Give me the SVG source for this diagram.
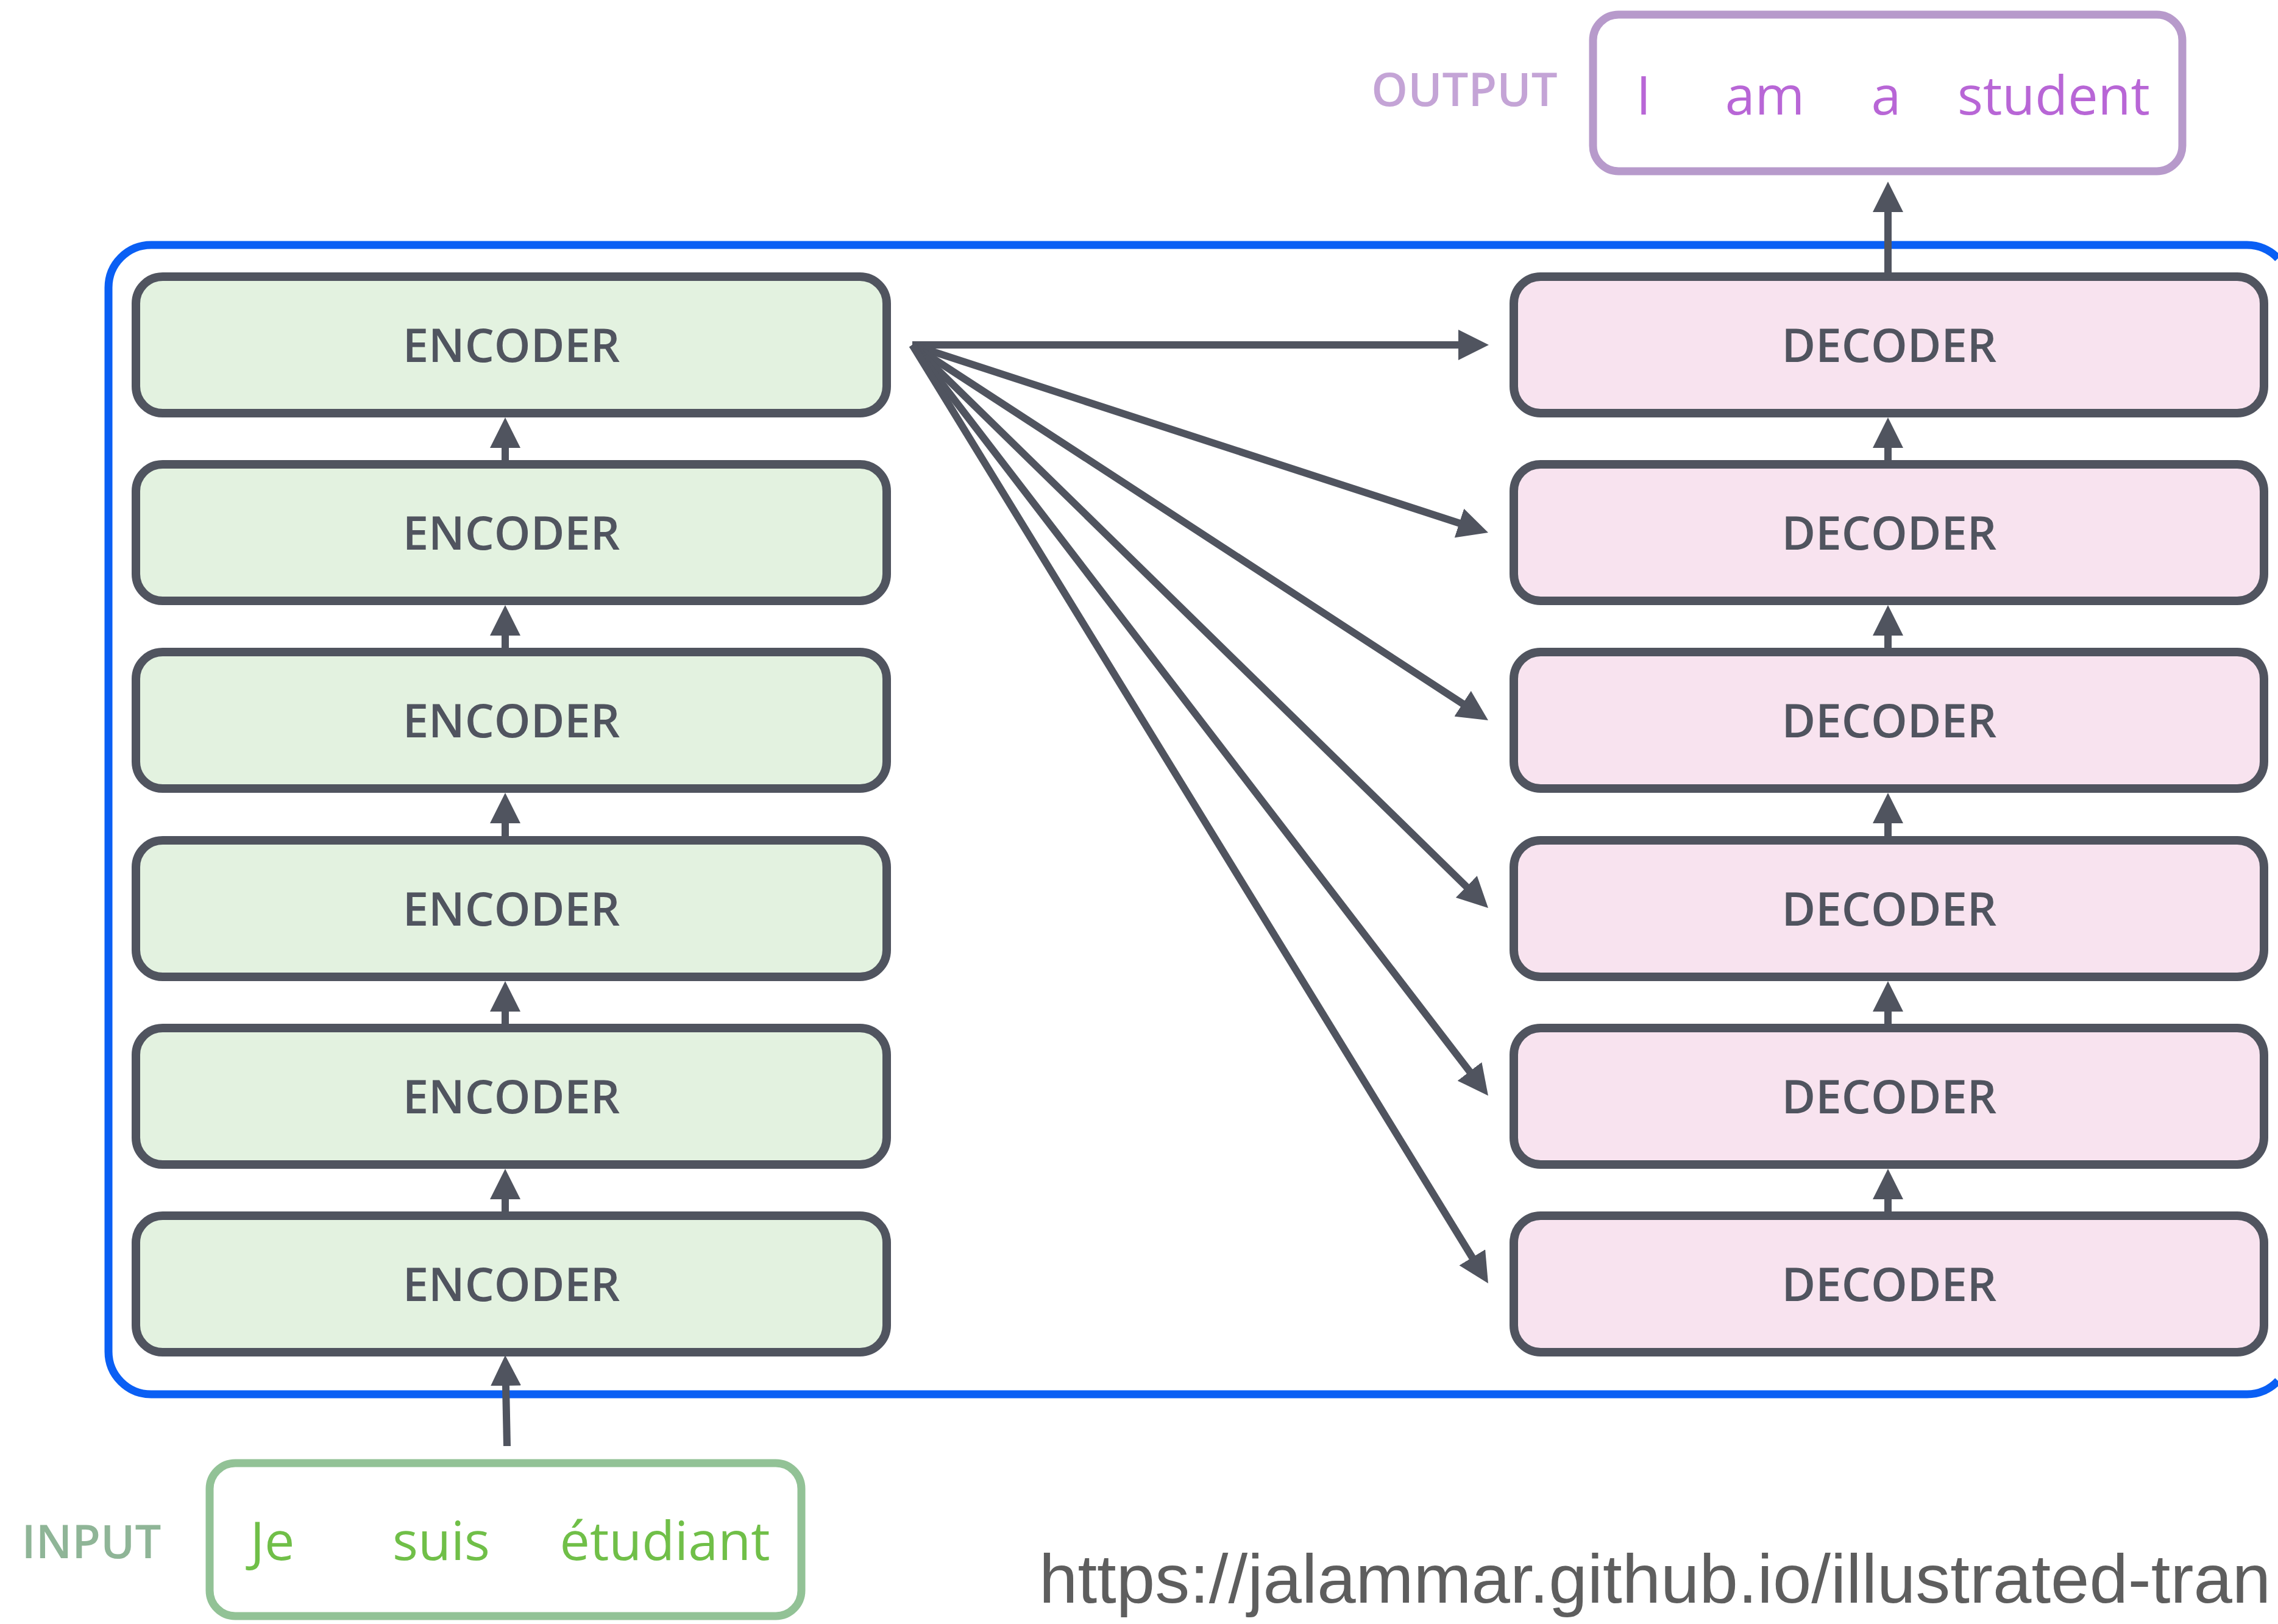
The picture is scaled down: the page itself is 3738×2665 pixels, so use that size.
<svg xmlns="http://www.w3.org/2000/svg" width="3738" height="2665" viewBox="0 0 3738 2665">
<style>
.enc rect{fill:#e3f2e0;stroke:#50545f;stroke-width:14}
.dec rect{fill:#f8e3ef;stroke:#50545f;stroke-width:14}
.lbl{font-family:"Open Sans","Noto Sans",sans-serif;font-weight:600;font-size:76px;fill:#50545f;text-anchor:middle}
.side{font-family:"Open Sans","Noto Sans",sans-serif;font-weight:600;font-size:76px;text-anchor:middle}
.word{font-family:"Open Sans","Noto Sans",sans-serif;font-size:88px;text-anchor:middle}
.conn line{stroke:#50545f;stroke-width:12;fill:none}
</style>
<defs>
<marker id="ah" markerUnits="userSpaceOnUse" markerWidth="50" markerHeight="50" refX="30" refY="25" orient="auto" viewBox="0 0 50 50">
<path d="M0,0 L50,25 L0,50 z" fill="#50545f"/>
</marker>
</defs>
<rect width="3738" height="2665" fill="#ffffff"/>
<g id="stack-frame">
<path d="M3738,424 A70,70 0 0 0 3687,402 L248,402 A70,70 0 0 0 178,472 L178,2218 A70,70 0 0 0 248,2288 L3687,2288 A70,70 0 0 0 3738,2266" fill="none" stroke="#0a5ff4" stroke-width="13"/>
</g>
<g id="encoder1" class="enc"><rect x="223" y="454" width="1232" height="224" rx="44"/><text class="lbl" x="839" y="594">ENCODER</text></g>
<g id="encoder2" class="enc"><rect x="223" y="762" width="1232" height="224" rx="44"/><text class="lbl" x="839" y="902">ENCODER</text></g>
<g id="encoder3" class="enc"><rect x="223" y="1070" width="1232" height="224" rx="44"/><text class="lbl" x="839" y="1210">ENCODER</text></g>
<g id="encoder4" class="enc"><rect x="223" y="1379" width="1232" height="224" rx="44"/><text class="lbl" x="839" y="1519">ENCODER</text></g>
<g id="encoder5" class="enc"><rect x="223" y="1687" width="1232" height="224" rx="44"/><text class="lbl" x="839" y="1827">ENCODER</text></g>
<g id="encoder6" class="enc"><rect x="223" y="1995" width="1232" height="224" rx="44"/><text class="lbl" x="839" y="2135">ENCODER</text></g>
<g id="decoder1" class="dec"><rect x="2484" y="454" width="1231" height="224" rx="44"/><text class="lbl" x="3100" y="594">DECODER</text></g>
<g id="decoder2" class="dec"><rect x="2484" y="762" width="1231" height="224" rx="44"/><text class="lbl" x="3100" y="902">DECODER</text></g>
<g id="decoder3" class="dec"><rect x="2484" y="1070" width="1231" height="224" rx="44"/><text class="lbl" x="3100" y="1210">DECODER</text></g>
<g id="decoder4" class="dec"><rect x="2484" y="1379" width="1231" height="224" rx="44"/><text class="lbl" x="3100" y="1519">DECODER</text></g>
<g id="decoder5" class="dec"><rect x="2484" y="1687" width="1231" height="224" rx="44"/><text class="lbl" x="3100" y="1827">DECODER</text></g>
<g id="decoder6" class="dec"><rect x="2484" y="1995" width="1231" height="224" rx="44"/><text class="lbl" x="3100" y="2135">DECODER</text></g>
<g id="output">
<text class="side" x="2403" y="174" fill="#c4a4d6">OUTPUT</text>
<rect x="2614" y="24" width="967" height="257" rx="42" fill="#ffffff" stroke="#b79acb" stroke-width="13"/>
<g class="word" fill="#b866d6">
<text x="2697" y="188">I</text><text x="2896" y="188">am</text><text x="3095" y="188">a</text><text x="3370" y="188">student</text>
</g>
</g>
<g id="input">
<text class="side" x="150" y="2557" fill="#8fb597">INPUT</text>
<rect x="344" y="2401" width="971" height="251" rx="42" fill="#ffffff" stroke="#92c296" stroke-width="13"/>
<g class="word" fill="#70bf48">
<text x="447" y="2560">Je</text><text x="724" y="2560">suis</text><text x="1091" y="2560">étudiant</text>
</g>
</g>
<g id="connectors" class="conn">
<line x1="829" y1="755" x2="829" y2="705" marker-end="url(#ah)"/>
<line x1="829" y1="1063" x2="829" y2="1013" marker-end="url(#ah)"/>
<line x1="829" y1="1372" x2="829" y2="1321" marker-end="url(#ah)"/>
<line x1="829" y1="1680" x2="829" y2="1630" marker-end="url(#ah)"/>
<line x1="829" y1="1988" x2="829" y2="1938" marker-end="url(#ah)"/>
<line x1="832" y1="2373" x2="829.4" y2="2244" marker-end="url(#ah)"/>
<line x1="3098" y1="755" x2="3098" y2="705" marker-end="url(#ah)"/>
<line x1="3098" y1="1063" x2="3098" y2="1013" marker-end="url(#ah)"/>
<line x1="3098" y1="1372" x2="3098" y2="1321" marker-end="url(#ah)"/>
<line x1="3098" y1="1680" x2="3098" y2="1630" marker-end="url(#ah)"/>
<line x1="3098" y1="1988" x2="3098" y2="1938" marker-end="url(#ah)"/>
<line x1="3098" y1="447" x2="3098" y2="318" marker-end="url(#ah)"/>
<line x1="1497" y1="566" x2="2423" y2="566" marker-end="url(#ah)"/>
<line x1="1497" y1="566" x2="2423" y2="867.8" marker-end="url(#ah)"/>
<line x1="1497" y1="566" x2="2425.2" y2="1171.1" marker-end="url(#ah)"/>
<line x1="1497" y1="566" x2="2427.7" y2="1476" marker-end="url(#ah)"/>
<line x1="1497" y1="566" x2="2429.8" y2="1782.1" marker-end="url(#ah)"/>
<line x1="1497" y1="566" x2="2431.5" y2="2089" marker-end="url(#ah)"/>
</g>
<text x="1705" y="2630" font-family="'Liberation Sans',Arial,sans-serif" font-size="114" fill="#5e5e5e">https://jalammar.github.io/illustrated-tran</text>
</svg>
